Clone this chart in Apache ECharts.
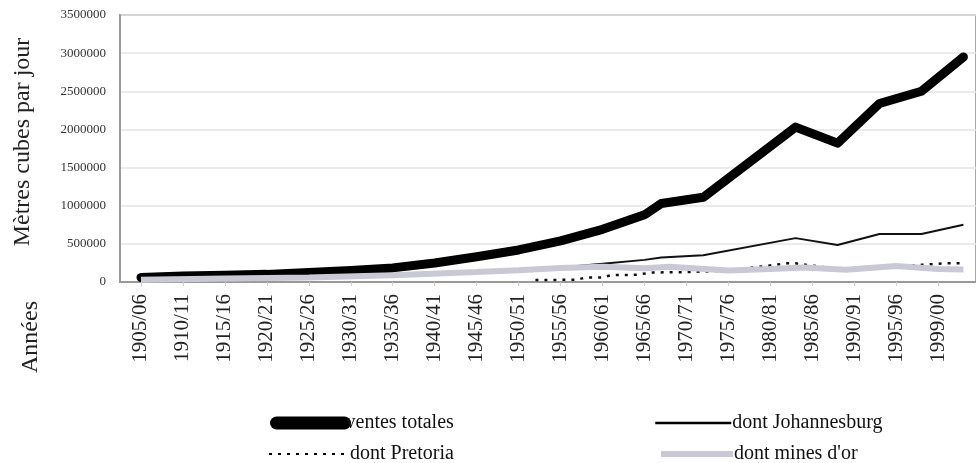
<!DOCTYPE html>
<html>
<head>
<meta charset="utf-8">
<script src="https://cdn.jsdelivr.net/npm/echarts@6/dist/echarts.min.js"></script>
<style>html,body{margin:0;padding:0;background:#fff}#c{width:976px;height:463px}</style>
</head>
<body>
<div id="c"></div>
<script>
var categories = [
'1903/04','1904/05','1905/06','1906/07','1907/08','1908/09','1909/10','1910/11','1911/12','1912/13',
'1913/14','1914/15','1915/16','1916/17','1917/18','1918/19','1919/20','1920/21','1921/22','1922/23',
'1923/24','1924/25','1925/26','1926/27','1927/28','1928/29','1929/30','1930/31','1931/32','1932/33',
'1933/34','1934/35','1935/36','1936/37','1937/38','1938/39','1939/40','1940/41','1941/42','1942/43',
'1943/44','1944/45','1945/46','1946/47','1947/48','1948/49','1949/50','1950/51','1951/52','1952/53',
'1953/54','1954/55','1955/56','1956/57','1957/58','1958/59','1959/60','1960/61','1961/62','1962/63',
'1963/64','1964/65','1965/66','1966/67','1967/68','1968/69','1969/70','1970/71','1971/72','1972/73',
'1973/74','1974/75','1975/76','1976/77','1977/78','1978/79','1979/80','1980/81','1981/82','1982/83',
'1983/84','1984/85','1985/86','1986/87','1987/88','1988/89','1989/90','1990/91','1991/92','1992/93',
'1993/94','1994/95','1995/96','1996/97','1997/98','1998/99','1999','1999/00','2000/01','2001/02',
'2002/03','2003/04'
];
var labelledCategories = ['1905/06','1910/11','1915/16','1920/21','1925/26','1930/31','1935/36','1940/41','1945/46','1950/51',
'1955/56','1960/61','1965/66','1970/71','1975/76','1980/81','1985/86','1990/91','1995/96','1999/00'];

var ventesTotales = [
['1905/06',60000],['1910/11',78000],['1915/16',90000],['1920/21',100000],['1925/26',125000],
['1930/31',150000],['1935/36',185000],['1940/41',250000],['1945/46',330000],['1950/51',420000],
['1955/56',540000],['1960/61',690000],['1965/66',880000],['1967/68',1030000],['1972/73',1110000],
['1983/84',2030000],['1988/89',1820000],['1993/94',2340000],['1998/99',2500000],['2002/03',2950000]
];
var johannesburg = [
['1905/06',40000],['1910/11',60000],['1920/21',70000],['1930/31',90000],['1940/41',120000],
['1950/51',160000],['1955/56',190000],['1960/61',240000],['1965/66',290000],['1967/68',320000],
['1972/73',350000],['1983/84',575000],['1988/89',485000],['1993/94',630000],['1998/99',630000],
['2002/03',750000]
];
var pretoria = [
['1952/53',25000],['1957/58',30000],['1958/59',60000],['1960/61',60000],['1961/62',90000],
['1964/65',95000],['1966/67',125000],['1970/71',130000],['1975/76',150000],['1982/83',245000],
['1983/84',245000],['1988/89',170000],['1995/96',200000],['1998/99',225000],['2000/01',245000],
['2002/03',245000]
];
var minesOr = [
['1905/06',30000],['1915/16',45000],['1925/26',60000],['1935/36',90000],['1945/46',130000],
['1950/51',155000],['1955/56',185000],['1960/61',200000],['1965/66',180000],['1968/69',200000],
['1975/76',150000],['1980/81',170000],['1984/85',190000],['1989/90',160000],['1995/96',210000],
['1999/00',170000],['2002/03',165000]
];
var yTicks = {min: 0, max: 3500000, step: 500000};

var serif = '"Liberation Serif", "DejaVu Serif", serif';
function showLabel(index, value) { return labelledCategories.indexOf(value) >= 0; }

var chart = echarts.init(document.getElementById('c'));
function legendFor(name, left, top, itemWidth, textShift, lineStyle) {
  return {
    data: [name], left: left, top: top, itemWidth: itemWidth, itemHeight: 14, itemGap: 0,
    padding: 0,
    itemStyle: {color: 'rgba(0,0,0,0)', borderColor: 'rgba(0,0,0,0)', borderWidth: 0, opacity: 0},
    lineStyle: lineStyle,
    textStyle: {fontFamily: serif, fontSize: 20, color: '#111', padding: [0,0,0,textShift]}
  };
}
chart.setOption({
  animation: false,
  grid: {left: 120, top: 15, width: 862, height: 267, show: true, borderColor: '#a8a8a8', borderWidth: 2, containLabel: false},
  xAxis: {
    type: 'category', data: categories, boundaryGap: true,
    axisLine: {show: true, lineStyle: {color: '#999', width: 2}},
    axisTick: {show: true, alignWithLabel: true, interval: showLabel, length: 4, lineStyle: {color: '#ccc'}},
    axisLabel: {rotate: 90, interval: showLabel, fontFamily: serif, fontSize: 21, color: '#222', margin: 12},
    splitLine: {show: false}
  },
  yAxis: {
    type: 'value', min: yTicks.min, max: yTicks.max, interval: yTicks.step,
    axisLine: {show: true, lineStyle: {color: '#999', width: 2}},
    axisTick: {show: false},
    axisLabel: {fontFamily: serif, fontSize: 13, color: '#333', margin: 14, formatter: function (v) { return String(v); }},
    splitLine: {lineStyle: {color: '#e4e4e4', width: 1.5}}
  },
  legend: [
    legendFor('ventes totales', 270, 413, 68, -4, {width: 13, cap: 'round', color: '#000'}),
    legendFor('dont Johannesburg', 654, 413, 76, -4, {width: 2.5, color: '#000'}),
    legendFor('dont Pretoria', 268, 444, 80, -4, {width: 2, color: '#000', type: [3, 6]}),
    legendFor("dont mines d'or", 658, 444, 72, -4, {width: 6, color: '#c9c9d5'})
  ],
  graphic: [
    {type: 'text', x: 23, y: 142, rotation: Math.PI / 2,
     style: {text: 'Mètres cubes par jour', font: '24px ' + serif, fill: '#222', align: 'center', verticalAlign: 'middle'}},
    {type: 'text', x: 31, y: 337, rotation: Math.PI / 2,
     style: {text: 'Années', font: '24px ' + serif, fill: '#222', align: 'center', verticalAlign: 'middle'}}
  ],
  series: [
    {name: 'ventes totales', type: 'line', data: ventesTotales, symbol: 'none', z: 2,
     color: '#000', lineStyle: {color: '#000', width: 9, cap: 'round', join: 'round'}},
    {name: 'dont Johannesburg', type: 'line', data: johannesburg, symbol: 'none', z: 3,
     color: '#111', lineStyle: {color: '#111', width: 2}},
    {name: 'dont Pretoria', type: 'line', data: pretoria, symbol: 'none', z: 4,
     color: '#111', lineStyle: {color: '#111', width: 2.5, type: [3, 6]}},
    {name: "dont mines d'or", type: 'line', data: minesOr, symbol: 'none', z: 5,
     color: '#c9c9d5', lineStyle: {color: '#c9c9d5', width: 6}}
  ]
});
</script>
</body>
</html>
